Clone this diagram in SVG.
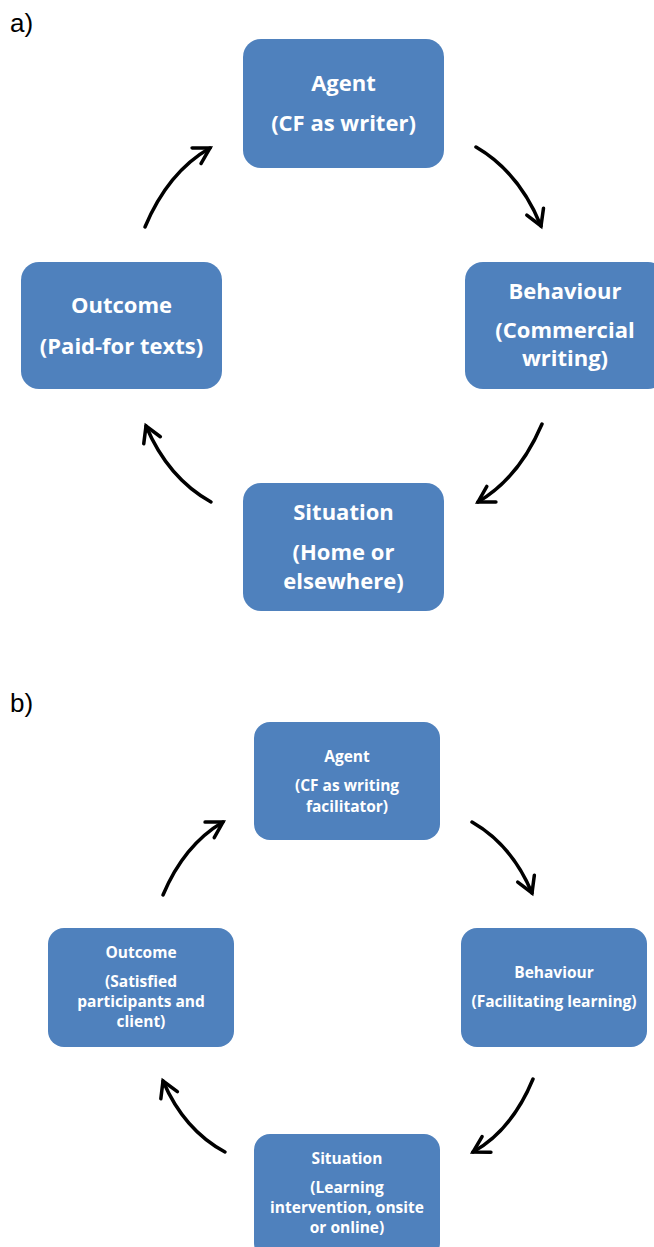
<svg xmlns="http://www.w3.org/2000/svg" width="654" height="1247" viewBox="0 0 654 1247">
<style>
.box{fill:#4F81BD;}
.t{fill:#fff;font-family:"Open Sans","Liberation Sans",sans-serif;font-weight:bold;text-anchor:middle;}
.ta{font-size:22px;}
.tb{font-size:15.5px;}
.lbl{font-family:"Liberation Sans",Arial,sans-serif;font-size:26px;fill:#000;}
.arr{fill:none;stroke:#000;stroke-width:3.5;stroke-linecap:round;marker-end:url(#ah);}
</style>
<defs>
<marker id="ah" markerUnits="userSpaceOnUse" markerWidth="40" markerHeight="40" viewBox="-20 -20 40 40" refX="0" refY="0" orient="auto" overflow="visible">
<path d="M-15.5,-9 L0,0 L-15.5,9" fill="none" stroke="#000" stroke-width="3.5" stroke-linecap="round" stroke-linejoin="miter"/>
</marker>
</defs>
<rect width="654" height="1247" fill="#fff"/>
<text class="lbl" x="10" y="32">a)</text>
<text class="lbl" x="10" y="712">b)</text>

<g id="a-agent"><rect class="box" x="243" y="39" width="201" height="129" rx="18"/>
<text class="t ta" x="343.5" y="91">Agent</text><text class="t ta" x="343.5" y="131">(CF as writer)</text></g>
<g id="a-behaviour"><rect class="box" x="465" y="262" width="201" height="127" rx="18"/>
<text class="t ta" x="565" y="299">Behaviour</text><text class="t ta" x="565" y="338">(Commercial</text><text class="t ta" x="565" y="366">writing)</text></g>
<g id="a-situation"><rect class="box" x="243" y="483" width="201" height="128" rx="18"/>
<text class="t ta" x="343.5" y="520">Situation</text><text class="t ta" x="343.5" y="560">(Home or</text><text class="t ta" x="343.5" y="589">elsewhere)</text></g>
<g id="a-outcome"><rect class="box" x="21" y="262" width="201" height="127" rx="18"/>
<text class="t ta" x="121.5" y="313">Outcome</text><text class="t ta" x="121.5" y="354">(Paid-for texts)</text></g>

<g id="b-agent"><rect class="box" x="254" y="722" width="186" height="118" rx="16"/>
<text class="t tb" x="347" y="762">Agent</text><text class="t tb" x="347" y="791">(CF as writing</text><text class="t tb" x="347" y="812">facilitator)</text></g>
<g id="b-behaviour"><rect class="box" x="461" y="928" width="186" height="119" rx="16"/>
<text class="t tb" x="554" y="978">Behaviour</text><text class="t tb" x="554" y="1007">(Facilitating learning)</text></g>
<g id="b-situation"><rect class="box" x="254" y="1134" width="186" height="125" rx="16"/>
<text class="t tb" x="347" y="1164">Situation</text><text class="t tb" x="347" y="1193">(Learning</text><text class="t tb" x="347" y="1213">intervention, onsite</text><text class="t tb" x="347" y="1233">or online)</text></g>
<g id="b-outcome"><rect class="box" x="48" y="928" width="186" height="119" rx="16"/>
<text class="t tb" x="141" y="958">Outcome</text><text class="t tb" x="141" y="987">(Satisfied</text><text class="t tb" x="141" y="1007">participants and</text><text class="t tb" x="141" y="1027">client)</text></g>

<g id="connectors">
<path class="arr" d="M145,227 Q168,172 210,148"/>
<path class="arr" d="M476,147 Q519,172 541,226"/>
<path class="arr" d="M542,424 Q519,478 478,502"/>
<path class="arr" d="M211,502 Q168,478 146,426"/>
<path class="arr" d="M163,895 Q184,845 223,822"/>
<path class="arr" d="M472,822 Q512,845 532,893"/>
<path class="arr" d="M533,1079 Q512,1130 473,1152"/>
<path class="arr" d="M225,1152 Q184,1130 163,1081"/>
</g>
</svg>
